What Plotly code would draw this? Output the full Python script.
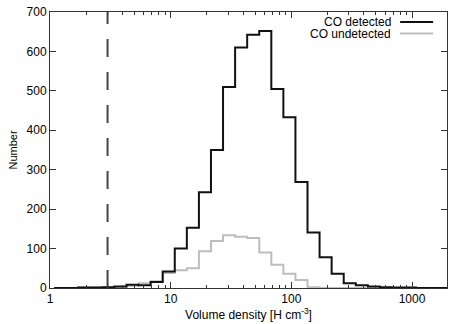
import numpy as np
import plotly.graph_objects as go

# histogram bins: 0.1 dex wide, in log10 of density
log_start = 0.034
log_width = 0.1

# counts per bin, starting at log_start
detected = [0, 0, 1, 1, 2, 4, 8, 7, 15, 42, 100, 153, 243, 350, 510,
            610, 642, 652, 505, 433, 269, 141, 78, 36, 12, 7, 4, 2, 1, 1,
            0, 0, 0]
undetected = [0, 0, 1, 1, 1, 2, 6, 12, 17, 38, 45, 50, 93, 119, 134,
              130, 127, 90, 59, 36, 20, 2, 0, 0, 0, 0, 0, 0, 0, 0,
              0, 0, 0]

threshold = 3  # dashed line
y_ticks = [0, 100, 200, 300, 400, 500, 600, 700]
x_ticks = [1, 10, 100, 1000]
x_minor = [m * d for d in (1, 10, 100, 1000) for m in range(2, 10)]

edges = 10 ** (log_start + log_width * np.arange(len(detected) + 1))

def step_xy(counts):
    xs = list(edges)
    ys = list(counts) + [counts[-1]]
    return xs, ys

fig = go.Figure()

xs, ys = step_xy(undetected)
fig.add_trace(go.Scatter(x=xs, y=ys, mode="lines", line_shape="hv",
                         line=dict(color="#bdbdbd", width=2),
                         name="CO undetected", showlegend=False))
xs, ys = step_xy(detected)
fig.add_trace(go.Scatter(x=xs, y=ys, mode="lines", line_shape="hv",
                         line=dict(color="#111111", width=2),
                         name="CO detected", showlegend=False))

# vertical dashed line at the threshold
fig.add_trace(go.Scatter(x=[threshold, threshold], y=[0, 700], mode="lines",
                         line=dict(color="#444444", width=2, dash="18px,15px"),
                         showlegend=False))

# gnuplot-style legend: text, then line sample
legend_items = [("CO detected", "#111111", 0.964), ("CO undetected", "#bdbdbd", 0.922)]
for label, color, ypos in legend_items:
    fig.add_annotation(x=0.862, y=ypos, xref="paper", yref="paper", text=label,
                       showarrow=False, xanchor="right", yanchor="middle",
                       height=11, borderpad=0,
                       font=dict(size=12, color="black"))
    fig.add_shape(type="line", xref="paper", yref="paper", x0=0.882, x1=0.965,
                  y0=ypos, y1=ypos, line=dict(color=color, width=2))

axis_common = dict(showline=True, linecolor="#333333", linewidth=1, mirror="ticks",
                   ticks="inside", tickcolor="#333333", showgrid=False, zeroline=False,
                   tickfont=dict(size=12, color="black"), automargin=False)

fig.update_xaxes(type="log", range=[0, 3.29], tickvals=x_ticks,
                 ticktext=[str(v) for v in x_ticks], ticklen=6,
                 minor=dict(ticks="inside", ticklen=3, tickcolor="#333333",
                            tickvals=x_minor, showgrid=False),
                 title=dict(text="Volume density [H cm<sup>-3</sup>]",
                            font=dict(size=12, color="black"), standoff=2),
                 **axis_common)
fig.update_yaxes(range=[0, 700], tickvals=y_ticks, ticklen=6,
                 title=dict(text="Number", font=dict(size=11, color="black"), standoff=6),
                 **axis_common)

fig.update_layout(width=463, height=324, margin=dict(l=50, r=16, t=12, b=36),
                  plot_bgcolor="white", paper_bgcolor="white",
                  font=dict(family="Liberation Sans, Arial, sans-serif", size=12))

# the page body has a default 8px margin; drop it so the chart sits at 0,0
fig.write_html("out.html", config={"displayModeBar": False},
               post_script="document.body.style.margin='0px';")
